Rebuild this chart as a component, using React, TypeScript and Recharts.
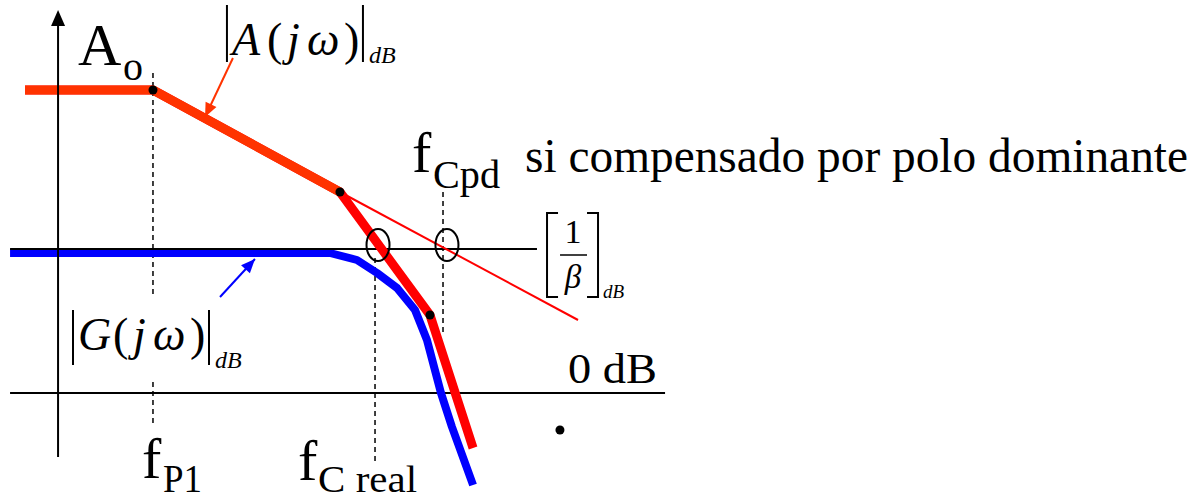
import React from 'react';
import { ComposedChart, Line, Scatter, XAxis, YAxis, ReferenceDot } from 'recharts';

// Canvas and axis ranges: x in decades of frequency, y in dB
const W = 1197;
const H = 502;
const X_MIN = -0.485;
const X_MAX = 9.515;
const Y_MIN = -27.25;
const Y_MAX = 98.25;
const PX_PER_DEC = W / (X_MAX - X_MIN);
const PX_PER_DB = H / (Y_MAX - Y_MIN);

const FONT = '"Liberation Serif", "Times New Roman", Times, serif';
const ORANGE_RED = '#ff3300';
const RED = '#ff0000';
const BLUE = '#0000ff';

// Open-loop gain |A(jω)| asymptotes
const openLoop = [
  { x: -0.276, y: 75.75 },
  { x: 0.793, y: 75.75 },
  { x: 2.355, y: 50.25 },
  { x: 3.107, y: 19.5 },
  { x: 3.467, y: -13.75 },
];
// first pole region, drawn over the full asymptote
const openLoopFirst = [
  { x: -0.276, y: 75.75 },
  { x: 0.793, y: 75.75 },
  { x: 2.355, y: 50.25 },
];
// -20 dB/dec slope continued (dominant-pole compensation)
const dominantPoleSlope = [
  { x: 2.355, y: 50.25 },
  { x: 4.344, y: 18.25 },
];
const poleCorners = [
  { x: 0.793, y: 75.75 },
  { x: 2.355, y: 50.25 },
  { x: 3.107, y: 19.5 },
];

// Closed-loop gain |G(jω)|
const closedLoop = [
  { x: -0.401, y: 35.0 },
  { x: 2.272, y: 35.0 },
  { x: 2.497, y: 33.25 },
  { x: 2.665, y: 30.0 },
  { x: 2.832, y: 26.25 },
  { x: 2.982, y: 20.75 },
  { x: 3.082, y: 13.25 },
  { x: 3.199, y: 0.0 },
  { x: 3.291, y: -8.5 },
  { x: 3.467, y: -23.0 },
];

// Reference levels
const zeroDbLine = [
  { x: -0.401, y: 0 },
  { x: 5.071, y: 0 },
];
const invBetaLine = [
  { x: -0.401, y: 36 },
  { x: 4.001, y: 36 },
];
const gainAxis = [
  { x: 0, y: -16 },
  { x: 0, y: 94 },
];
const gainAxisTip = { x: 0, y: 95.75 };

// Frequency guides
const fP1Guide = [
  { x: 0.793, y: 80 },
  { x: 0.793, y: 23.75 },
  { x: 0.793, y: null },
  { x: 0.793, y: 2.75 },
  { x: 0.793, y: -8 },
];
const fCrealGuide = [
  { x: 2.648, y: 33.75 },
  { x: 2.648, y: -17.5 },
];
const fCpdGuide = [
  { x: 3.216, y: 50.25 },
  { x: 3.216, y: 14.5 },
];

// Crossings with 1/β
const crossings = [
  { x: 2.673, y: 37 },
  { x: 3.249, y: 37 },
];
const strayDot = [{ x: 4.193, y: -9.25 }];

// Pointer arrows for the curve labels
const arrowA = { from: { x: 1.461, y: 83.75 }, to: { x: 1.228, y: 69.0 } };
const arrowG = { from: { x: 1.353, y: 24.0 }, to: { x: 1.645, y: 33.5 } };

const txt = { fontFamily: FONT };

const anchor = (
  key: string,
  x: number,
  y: number,
  draw: (cx: number, cy: number) => React.ReactElement
) => (
  <ReferenceDot
    key={key}
    x={x}
    y={y}
    r={0}
    ifOverflow="visible"
    shape={(p: any) => draw(p.cx, p.cy)}
  />
);

const arrowHead = (
  key: string,
  arrow: { from: { x: number; y: number }; to: { x: number; y: number } },
  color: string
) =>
  anchor(key, arrow.to.x, arrow.to.y, (cx, cy) => {
    const dx = (arrow.to.x - arrow.from.x) * PX_PER_DEC;
    const dy = -(arrow.to.y - arrow.from.y) * PX_PER_DB;
    const len = Math.hypot(dx, dy);
    const ux = dx / len;
    const uy = dy / len;
    const L = 14;
    const hw = 6;
    const bx = cx - ux * L;
    const by = cy - uy * L;
    const pts = `${cx},${cy} ${bx - uy * hw},${by + ux * hw} ${bx + uy * hw},${by - ux * hw}`;
    return <polygon points={pts} fill={color} />;
  });

const magnitudeLabel = (
  cx: number,
  cy: number,
  letter: string,
  barTop: number,
  barBottom: number,
  subDy: number
) => (
  <g fill="#000">
    <line x1={cx} y1={cy + barTop} x2={cx} y2={cy + barBottom} stroke="#000" strokeWidth={2} />
    <text style={txt} x={cx + 5} y={cy} fontSize={46} fontStyle="italic">{letter}</text>
    <text style={txt} x={cx + 40} y={cy} fontSize={46}>(</text>
    <text style={txt} x={cx + 60} y={cy} fontSize={46} fontStyle="italic">j</text>
    <text style={txt} x={cx + 80} y={cy} fontSize={46} fontStyle="italic">ω</text>
    <text style={txt} x={cx + 117} y={cy} fontSize={46}>)</text>
    <line x1={cx + 136} y1={cy + barTop} x2={cx + 136} y2={cy + barBottom} stroke="#000" strokeWidth={2} />
    <text style={txt} x={cx + 142} y={cy + subDy} fontSize={24} fontStyle="italic">dB</text>
  </g>
);

const freqLabel = (
  cx: number,
  cy: number,
  sub: string,
  subDx: number,
  subDy: number,
  subSize: number,
  subWidth: number
) => (
  <g fill="#000">
    <text style={txt} x={cx} y={cy} fontSize={58}>f</text>
    <text
      style={txt}
      x={cx + subDx}
      y={cy + subDy}
      fontSize={subSize}
      textLength={subWidth}
      lengthAdjust="spacingAndGlyphs"
    >
      {sub}
    </text>
  </g>
);

const lineCommon = {
  type: 'linear' as const,
  dataKey: 'y',
  dot: false,
  activeDot: false,
  isAnimationActive: false,
};

export default function App() {
  return (
    <div style={{ position: 'absolute', left: 0, top: 0, width: W, height: H, background: '#fff' }}>
      <ComposedChart width={W} height={H} margin={{ top: 0, right: 0, bottom: 0, left: 0 }}>
        <XAxis type="number" dataKey="x" domain={[X_MIN, X_MAX]} allowDataOverflow hide />
        <YAxis type="number" dataKey="y" domain={[Y_MIN, Y_MAX]} allowDataOverflow hide />

        {/* 0 dB level */}
        <Line {...lineCommon} data={zeroDbLine} stroke="#000" strokeWidth={2} />

        {/* frequency guides */}
        <Line {...lineCommon} data={fP1Guide} stroke="#000" strokeWidth={1.5} strokeDasharray="5 4" connectNulls={false} />
        <Line {...lineCommon} data={fCrealGuide} stroke="#000" strokeWidth={1.5} strokeDasharray="5 4" />
        <Line {...lineCommon} data={fCpdGuide} stroke="#000" strokeWidth={1.5} strokeDasharray="5 4" />

        {/* closed-loop curve, then the 1/β level over it */}
        <Line {...lineCommon} data={closedLoop} stroke={BLUE} strokeWidth={8} strokeLinejoin="round" />
        <Line {...lineCommon} data={invBetaLine} stroke="#000" strokeWidth={2} />

        {/* open-loop asymptotes */}
        <Line {...lineCommon} data={dominantPoleSlope} stroke={RED} strokeWidth={2} />
        <Line {...lineCommon} data={openLoop} stroke={RED} strokeWidth={9} strokeLinejoin="round" />
        <Line {...lineCommon} data={openLoopFirst} stroke={ORANGE_RED} strokeWidth={9} strokeLinejoin="round" />

        {/* gain axis on top of the curves */}
        <Line {...lineCommon} data={gainAxis} stroke="#000" strokeWidth={2} />

        {/* label pointers */}
        <Line {...lineCommon} data={[arrowA.from, arrowA.to]} stroke={ORANGE_RED} strokeWidth={2} />
        <Line {...lineCommon} data={[arrowG.from, arrowG.to]} stroke={BLUE} strokeWidth={2} />

        <Scatter data={poleCorners} dataKey="y" isAnimationActive={false}
          shape={(p: any) => <circle cx={p.cx} cy={p.cy} r={4.5} fill="#000" />} />
        <Scatter data={strayDot} dataKey="y" isAnimationActive={false}
          shape={(p: any) => <circle cx={p.cx} cy={p.cy} r={4.5} fill="#000" />} />
        <Scatter data={crossings} dataKey="y" isAnimationActive={false}
          shape={(p: any) => (
            <ellipse cx={p.cx} cy={p.cy} rx={11.5} ry={16} fill="none" stroke="#000" strokeWidth={2} />
          )} />

        {arrowHead('headA', arrowA, ORANGE_RED)}
        {arrowHead('headG', arrowG, BLUE)}
        {anchor('axisTip', gainAxisTip.x, gainAxisTip.y, (cx, cy) => (
          <polygon points={`${cx},${cy} ${cx - 7},${cy + 16} ${cx + 7},${cy + 16}`} fill="#000" />
        ))}

        {/* text */}
        {anchor('Ao', 0.167, 82.0, (cx, cy) => (
          <g fill="#000">
            <text style={txt} x={cx} y={cy} fontSize={60}>A</text>
            <text style={txt} x={cx + 45} y={cy + 15} fontSize={40}>o</text>
          </g>
        ))}
        {anchor('Alabel', 1.411, 84.5, (cx, cy) => magnitudeLabel(cx, cy, 'A', -50, 7, 8))}
        {anchor('Glabel', 0.125, 10.75, (cx, cy) => magnitudeLabel(cx, cy, 'G', -40, 15, 18))}
        {anchor('fP1', 0.701, -21.25, (cx, cy) => freqLabel(cx, cy, 'P1', 21, 14, 40, 39))}
        {anchor('fCreal', 2.005, -21.75, (cx, cy) => freqLabel(cx, cy, 'C real', 20, 12, 38, 99))}
        {anchor('fCpd', 2.957, 55.25, (cx, cy) => freqLabel(cx, cy, 'Cpd', 21, 16, 41, 67))}
        {anchor('note', 3.901, 55.25, (cx, cy) => (
          <text style={txt} x={cx} y={cy} fontSize={48} fill="#000" textLength={663} lengthAdjust="spacingAndGlyphs">
            si compensado por polo dominante
          </text>
        ))}
        {anchor('zeroDb', 4.26, 2.5, (cx, cy) => (
          <text style={txt} x={cx} y={cy} fontSize={42} fill="#000" textLength={89} lengthAdjust="spacingAndGlyphs">
            0 dB
          </text>
        ))}
        {anchor('invBeta', 4.085, 34.5, (cx, cy) => (
          <g fill="#000">
            <path d={`M${cx + 11},${cy - 42} H${cx} V${cy + 42} H${cx + 11}`} fill="none" stroke="#000" strokeWidth={2} />
            <path d={`M${cx + 40},${cy - 42} H${cx + 51} V${cy + 42} H${cx + 40}`} fill="none" stroke="#000" strokeWidth={2} />
            <text style={txt} x={cx + 26} y={cy - 12} fontSize={34} textAnchor="middle">1</text>
            <line x1={cx + 13} y1={cy} x2={cx + 40} y2={cy} stroke="#000" strokeWidth={1.5} />
            <text style={txt} x={cx + 26} y={cy + 33} fontSize={33} fontStyle="italic" textAnchor="middle">β</text>
            <text style={txt} x={cx + 56} y={cy + 43} fontSize={19} fontStyle="italic">dB</text>
          </g>
        ))}
      </ComposedChart>
    </div>
  );
}
